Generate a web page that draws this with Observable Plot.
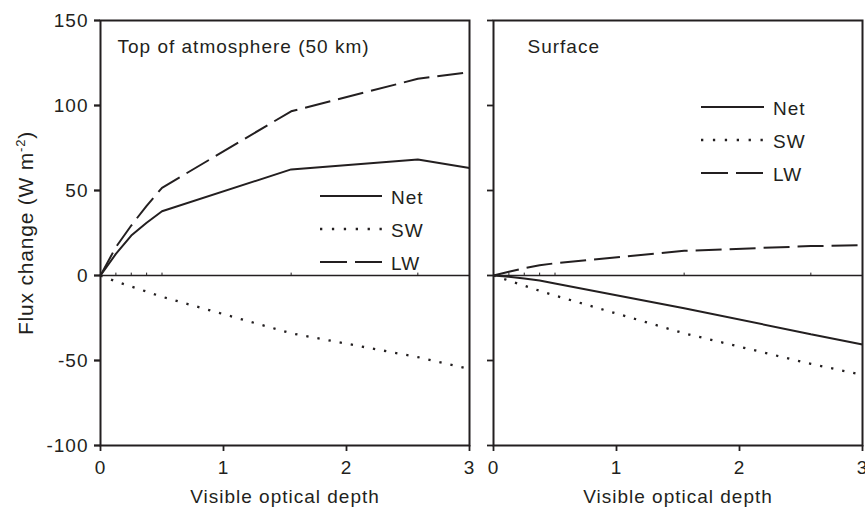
<!DOCTYPE html>
<html><head><meta charset="utf-8">
<script src="https://cdn.jsdelivr.net/npm/d3@7"></script>
<script src="https://cdn.jsdelivr.net/npm/@observablehq/plot@0.6"></script>
<style>
html,body{margin:0;padding:0;background:#fff;overflow:hidden}
#chart{position:relative;width:865px;height:510px}
#chart svg text{letter-spacing:1px}
#chart svg g[aria-label="y-axis label"] text{letter-spacing:0.8px;font-size:21px}
</style></head><body><div id="chart"></div>
<script>
// Data
const panels = ["toa", "sfc"];
const panelTitles = ["Top of atmosphere (50 km)", "Surface"];
const seriesNames = ["Net", "SW", "LW"];
const depth = [0, 0.125, 0.25, 0.375, 0.5, 1.55, 2.58, 3];
const toaNet = [0, 12.7, 23.5, 31, 37.8, 62.4, 68.2, 63.3];
const toaSW  = [0, -3.5, -6.5, -9.5, -12.5, -34, -48, -55];
const toaLW  = [0, 16.7, 29.4, 41, 51.6, 96.6, 115.7, 119.6];
const sfcNet = [0, -0.8, -1.7, -3, -4.7, -19.3, -34.5, -40.6];
const sfcSW  = [0, -3, -6, -9, -11.8, -34, -52, -58.5];
const sfcLW  = [0, 2.2, 4.3, 6, 7.2, 14.5, 17.3, 17.8];
const xTicks = [0, 1, 2, 3];
const yTicks = [-100, -50, 0, 50, 100, 150];

const seriesData = {
  toa: {Net: toaNet, SW: toaSW, LW: toaLW},
  sfc: {Net: sfcNet, SW: sfcSW, LW: sfcLW}
};
const table = [];
for (const p of panels) for (const s of seriesNames)
  seriesData[p][s].forEach((v, i) => table.push({panel: p, series: s, depth: depth[i], value: v}));

const ink = "#231f20";
const dash = {Net: null, SW: "2.3,9", LW: "26,8"};

const lineMark = s => Plot.line(table.filter(d => d.series === s), {
  x: "depth", y: "value", fx: "panel", stroke: ink, strokeWidth: s === "SW" ? 2.3 : 2,
  strokeDasharray: dash[s], strokeLinecap: "butt", strokeLinejoin: "miter"
});

const plot = Plot.plot({
  width: 865, height: 510,
  marginLeft: 100, marginRight: 3, marginTop: 20, marginBottom: 65,
  style: {fontFamily: "'Liberation Sans', Arial, Helvetica, sans-serif", fontSize: "19px", color: ink, background: "#fff"},
  fx: {domain: panels, paddingInner: 0.062, paddingOuter: 0, axis: null},
  x: {domain: [0, 3]},
  y: {domain: [-100, 150]},
  marks: [
    Plot.ruleY([0], {stroke: ink, strokeWidth: 1.3}),
    Plot.ruleX(depth.slice(1, -1), {y1: 0, y2: 1.4, stroke: ink, strokeWidth: 1}),
    lineMark("SW"), lineMark("LW"), lineMark("Net"),
    Plot.frame({stroke: ink, strokeWidth: 2}),
    Plot.axisX(xTicks, {tickSize: 6, tickPadding: 9, strokeWidth: 1.8, label: null, fill: ink, tickFormat: d => String(d)}),
    Plot.axisY(yTicks, {facetAnchor: null, tickSize: 6, strokeWidth: 1.8, tickFormat: () => "", label: null}),
    Plot.axisY(yTicks, {tickSize: 6, tickPadding: 6, strokeWidth: 1.8, fill: ink, tickFormat: d => String(d),
      label: "Flux change (W m-2)", labelAnchor: "center", labelArrow: "none", labelOffset: 82}),
    Plot.text(["Visible optical depth"], {frameAnchor: "bottom", lineAnchor: "middle", dy: 51, fill: ink}),
    Plot.text([{panel: panels[0], t: panelTitles[0]}], {fx: "panel", text: "t", frameAnchor: "top-left", lineAnchor: "middle", dx: 17, dy: 26, fill: ink}),
    Plot.text([{panel: panels[1], t: panelTitles[1]}], {fx: "panel", text: "t", frameAnchor: "top-left", lineAnchor: "middle", dx: 34, dy: 26, fill: ink})
  ]
});

// superscript in the y label
const lab = d3.select(plot).select('g[aria-label="y-axis label"] text');
if (!lab.empty()) {
  lab.text(null);
  lab.append("tspan").text("Flux change (W m");
  lab.append("tspan").attr("font-size", "13px").attr("dy", -8).text("-2");
  lab.append("tspan").attr("dy", 8).text(")");
}

// legends (pixel key boxes)
const svg = d3.select(plot);
const legends = [
  {x1: 320, x2: 382, tx: 391, ys: [196, 229, 262]},
  {x1: 701, x2: 764, tx: 773, ys: [107, 140, 173]}
];
for (const L of legends) {
  const g = svg.append("g").attr("font-family", "'Liberation Sans', Arial, sans-serif")
    .attr("font-size", 19).attr("text-anchor", "start");
  seriesNames.forEach((s, i) => {
    g.append("line").attr("x1", L.x1).attr("x2", L.x2).attr("y1", L.ys[i]).attr("y2", L.ys[i])
      .attr("stroke", ink).attr("stroke-width", s === "SW" ? 2.3 : 2)
      .attr("stroke-dasharray", s === "SW" ? "2.3,9.6" : s === "LW" ? "27,8" : null);
    g.append("text").attr("x", L.tx).attr("y", L.ys[i] + 1.5).attr("dy", "0.35em")
      .attr("text-anchor", "start").attr("fill", ink).text(s);
  });
}

document.getElementById("chart").appendChild(plot);
</script></body></html>
